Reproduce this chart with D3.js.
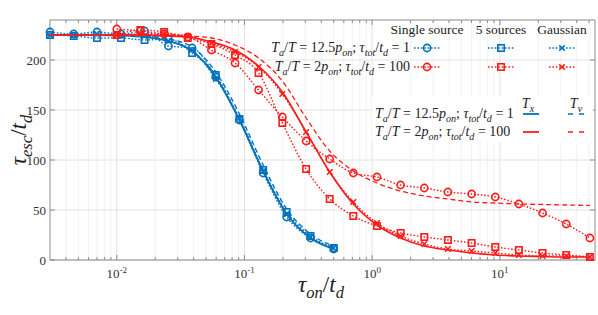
<!DOCTYPE html>
<html>
<head>
<meta charset="utf-8">
<script src="https://cdn.jsdelivr.net/npm/d3@7"></script>
</head>
<body style="margin:0">
<svg id="chart" width="598" height="315" font-family="serif"></svg>
<script>
// tau_on / t_d sample points for the blue case (Ta/T = 12.5 pon, tau_tot/td = 1)
const blueX = [0.003, 0.0046, 0.0070, 0.0108, 0.0165, 0.0254, 0.0389, 0.0596, 0.0913, 0.140, 0.214, 0.329, 0.50];
const blueTx = [225, 225, 225, 224.5, 223, 219, 209, 183, 140, 89, 46, 22, 11];
const blueTv = [225, 225, 225, 225, 224, 221, 213, 188, 146, 95, 51, 26, 14];
const blueSingle = [228, 226, 228, 226, 229, 214, 212, 183, 140, 87, 43, 22, 11];
const blueFive = [225, 224, 222, 222, 220, 221, 207, 185, 141, 90, 48, 24, 12];
const blueGauss = [225, 225, 226, 225, 224, 219, 210, 181, 142, 89, 46, 23, 12];

// sample points for the red case (Ta/T = 2 pon, tau_tot/td = 100)
const redX = [0.01, 0.0153, 0.0235, 0.036, 0.0551, 0.0844, 0.129, 0.198, 0.304, 0.465, 0.712,
              1.09, 1.67, 2.56, 3.92, 6.01, 9.21, 14.1, 21.6, 33.1, 50.7];
const redSingle = [231, 229, 226, 223, 210, 197, 170, 143, 119, 101, 87, 83, 75, 72, 68, 66, 63, 56, 47, 36, 22];
const redFive = [225, 230, 228, 222, 216, 205, 187, 137, 91, 61, 44, 34, 27, 23, 20, 17, 13, 10, 7, 5, 3];
const redGauss = [225, 226, 226, 224, 217, 208, 193, 166, 128, 88, 58, 37, 24, 16, 11, 9, 7, 5, 4, 4, 3];
// theory curves start at the left edge
const redLineX = [0.003, 0.0046, 0.0070, ...redX];
const redTx = [225, 225, 225, 225, 225, 224, 223, 218, 210, 194, 168, 128, 88, 56, 35, 22, 14, 10, 7, 5, 4, 3.5, 3, 3];
const redTv = [225, 225, 225, 225, 225, 225, 224, 222, 215, 202, 179, 142, 109, 89, 77, 69, 64, 61, 58, 57, 56, 55.5, 55, 54.5];

const yTicks = [0, 50, 100, 150, 200];
const xTicks = [0.01, 0.1, 1, 10];
const xTickExp = ["-2", "-1", "0", "1"];

const BLUE = "#0072BD";
const RED = "#ff1a1a";
const FONT = "serif";

const svg = d3.select("#chart");

const x = d3.scaleLog().domain([0.003, 55.6]).range([50, 595]);
const y = d3.scaleLinear().domain([0, 240]).range([260, 20]);

// grid
const minorX = [];
[0.001, 0.01, 0.1, 1, 10].forEach(d => {
  for (let k = 2; k <= 9; k++) {
    const v = d * k;
    if (v > 0.003 && v < 55.6) minorX.push(v);
  }
});
svg.append("g").selectAll("line").data(minorX).join("line")
  .attr("x1", d => x(d)).attr("x2", d => x(d))
  .attr("y1", 20).attr("y2", 260)
  .attr("stroke", "#efefef").attr("stroke-width", 0.8);
svg.append("g").selectAll("line").data(xTicks).join("line")
  .attr("x1", d => x(d)).attr("x2", d => x(d))
  .attr("y1", 20).attr("y2", 260)
  .attr("stroke", "#e2e2e2").attr("stroke-width", 1);
svg.append("g").selectAll("line").data(yTicks).join("line")
  .attr("x1", 50).attr("x2", 595)
  .attr("y1", d => y(d)).attr("y2", d => y(d))
  .attr("stroke", "#e2e2e2").attr("stroke-width", 1);

// frame + ticks
const frame = svg.append("g").attr("stroke", "#8c8c8c").attr("fill", "none");
frame.append("rect").attr("x", 50).attr("y", 20).attr("width", 545).attr("height", 240).attr("stroke-width", 1);
xTicks.forEach(d => {
  frame.append("line").attr("x1", x(d)).attr("x2", x(d)).attr("y1", 260).attr("y2", 255);
  frame.append("line").attr("x1", x(d)).attr("x2", x(d)).attr("y1", 20).attr("y2", 25);
});
minorX.forEach(d => {
  frame.append("line").attr("x1", x(d)).attr("x2", x(d)).attr("y1", 260).attr("y2", 257);
  frame.append("line").attr("x1", x(d)).attr("x2", x(d)).attr("y1", 20).attr("y2", 23);
});
yTicks.forEach(d => {
  frame.append("line").attr("x1", 50).attr("x2", 55).attr("y1", y(d)).attr("y2", y(d));
  frame.append("line").attr("x1", 595).attr("x2", 590).attr("y1", y(d)).attr("y2", y(d));
});

// tick labels
svg.append("g").selectAll("text").data(yTicks).join("text")
  .attr("font-family", FONT)
  .attr("x", 46).attr("y", d => y(d) + 4.5)
  .attr("text-anchor", "end")
  .attr("font-size", 13).attr("fill", "#333")
  .text(d => d);
xTicks.forEach((d, i) => {
  const t = svg.append("text")
    .attr("font-family", FONT)
    .attr("x", x(d)).attr("y", 278)
    .attr("text-anchor", "middle")
    .attr("font-size", 13).attr("fill", "#333");
  t.append("tspan").text("10");
  t.append("tspan").attr("dy", -5).attr("font-size", 9).text(xTickExp[i]);
});

// math text helper: parts are [text, style]; style n=normal, i=italic, s=italic subscript
function mathText(sel, parts, size) {
  sel.attr("font-family", FONT);
  let sub = false;
  parts.forEach(([t, s]) => {
    const ts = sel.append("tspan").text(t);
    if (s === "i" || s === "s") ts.attr("font-style", "italic");
    if (s === "s" && !sub) { ts.attr("dy", size * 0.25).attr("font-size", size * 0.72); sub = true; }
    else if (s === "s") { ts.attr("font-size", size * 0.72); }
    else if (sub) { ts.attr("dy", -size * 0.25); sub = false; }
  });
  return sel;
}

// axis labels
mathText(svg.append("text")
  .attr("x", 321).attr("y", 292).attr("text-anchor", "middle")
  .attr("font-size", 23).attr("fill", "#222"),
  [["τ", "i"], ["on", "s"], ["/", "n"], ["t", "i"], ["d", "s"]], 23);
mathText(svg.append("text")
  .attr("transform", "translate(26,140) rotate(-90)").attr("text-anchor", "middle")
  .attr("font-size", 23).attr("fill", "#222"),
  [["τ", "i"], ["esc", "s"], ["/", "n"], ["t", "i"], ["d", "s"]], 23);

// data lines
const plot = svg.append("g");
function drawLine(xs, ys, color, dash, width) {
  const pts = xs.map((d, i) => [d, ys[i]]);
  plot.append("path")
    .datum(pts)
    .attr("fill", "none")
    .attr("stroke", color)
    .attr("stroke-width", width)
    .attr("stroke-dasharray", dash)
    .attr("d", d3.line().x(d => x(d[0])).y(d => y(d[1])).curve(d3.curveMonotoneX));
}
function drawMarkers(g, pts, color, shape) {
  pts.forEach(([px, py]) => {
    if (shape === "circle") {
      g.append("circle").attr("cx", px).attr("cy", py).attr("r", 3.6)
        .attr("fill", "none").attr("stroke", color).attr("stroke-width", 1.6);
    } else if (shape === "square") {
      g.append("rect").attr("x", px - 3.2).attr("y", py - 3.2).attr("width", 6.4).attr("height", 6.4)
        .attr("fill", "none").attr("stroke", color).attr("stroke-width", 1.6);
    } else {
      g.append("path").attr("d", `M${px - 2.8},${py - 2.8}L${px + 2.8},${py + 2.8}M${px - 2.8},${py + 2.8}L${px + 2.8},${py - 2.8}`)
        .attr("stroke", color).attr("stroke-width", 1.6);
    }
  });
}
function drawSeries(xs, ys, color, shape) {
  drawLine(xs, ys, color, "1.6,1.8", 1.4);
  drawMarkers(plot.append("g"), xs.map((d, i) => [x(d), y(ys[i])]), color, shape);
}

drawLine(blueX, blueTx, BLUE, null, 1.8);
drawLine(blueX, blueTv, BLUE, "5,3", 1.4);
drawSeries(blueX, blueSingle, BLUE, "circle");
drawSeries(blueX, blueFive, BLUE, "square");
drawSeries(blueX, blueGauss, BLUE, "x");

drawLine(redLineX, redTx, RED, null, 1.6);
drawLine(redLineX, redTv, RED, "5,3", 1.3);
drawSeries(redX, redSingle, RED, "circle");
drawSeries(redX, redFive, RED, "square");
drawSeries(redX, redGauss, RED, "x");

// legend 1: simulations
const leg = svg.append("g");
const colHeads = ["Single source", "5 sources", "Gaussian"];
const colX = [427, 501, 562];
const shapes = ["circle", "square", "x"];
colHeads.forEach((t, i) => {
  leg.append("text").attr("font-family", FONT)
    .attr("x", colX[i]).attr("y", 34).attr("text-anchor", "middle")
    .attr("font-size", 13.5).attr("fill", "#222").text(t);
});
const rowLabels = [
  [["T", "i"], ["a", "s"], ["/", "n"], ["T", "i"], [" = 12.5", "n"], ["p", "i"], ["on", "s"], ["; ", "n"], ["τ", "i"], ["tot", "s"], ["/", "n"], ["t", "i"], ["d", "s"], [" = 1", "n"]],
  [["T", "i"], ["a", "s"], ["/", "n"], ["T", "i"], [" = 2", "n"], ["p", "i"], ["on", "s"], ["; ", "n"], ["τ", "i"], ["tot", "s"], ["/", "n"], ["t", "i"], ["d", "s"], [" = 100", "n"]]
];
const rowColors = [BLUE, RED];
const rowY = [48, 67];
rowLabels.forEach((parts, r) => {
  mathText(leg.append("text").attr("x", 410).attr("y", rowY[r] + 4).attr("text-anchor", "end")
    .attr("font-size", 14).attr("fill", "#222"), parts, 14);
  colX.forEach((cx, i) => {
    leg.append("line").attr("x1", cx - 13).attr("x2", cx + 13).attr("y1", rowY[r]).attr("y2", rowY[r])
      .attr("stroke", rowColors[r]).attr("stroke-width", 1.4).attr("stroke-dasharray", "1.6,1.8");
    drawMarkers(leg, [[cx, rowY[r]]], rowColors[r], shapes[i]);
  });
});

// legend 2: theory
const leg2 = svg.append("g");
leg2.append("rect").attr("x", 372).attr("y", 96).attr("width", 221).attr("height", 46).attr("fill", "white");
const thRowY = [114, 132];
mathText(leg2.append("text").attr("x", 528).attr("y", 108).attr("text-anchor", "middle")
  .attr("font-size", 14).attr("fill", "#222"), [["T", "i"], ["x", "s"]], 14);
mathText(leg2.append("text").attr("x", 576).attr("y", 108).attr("text-anchor", "middle")
  .attr("font-size", 14).attr("fill", "#222"), [["T", "i"], ["v", "s"]], 14);
rowLabels.forEach((parts, r) => {
  mathText(leg2.append("text").attr("x", 375).attr("y", thRowY[r] + 4).attr("text-anchor", "start")
    .attr("font-size", 14).attr("fill", "#222"), parts, 14);
  leg2.append("line").attr("x1", 523).attr("x2", 539).attr("y1", thRowY[r]).attr("y2", thRowY[r])
    .attr("stroke", rowColors[r]).attr("stroke-width", 1.8);
  leg2.append("line").attr("x1", 568).attr("x2", 586).attr("y1", thRowY[r]).attr("y2", thRowY[r])
    .attr("stroke", rowColors[r]).attr("stroke-width", 1.4).attr("stroke-dasharray", "5,6");
});
</script>
</body>
</html>
